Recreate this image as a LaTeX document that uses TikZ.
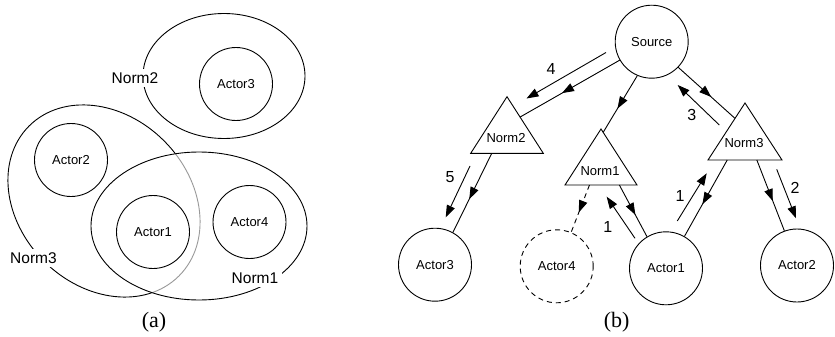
\documentclass[tikz,border=0pt]{standalone}
\usepackage{fontspec}
\setmainfont{Liberation Serif}
\setsansfont{Liberation Sans}
\usetikzlibrary{arrows.meta,decorations.markings,calc}

\begin{document}
\begin{tikzpicture}[x=1pt,y=-1pt,
  line width=0.9pt,
  >={Triangle[length=12pt,width=8.5pt]},
  every node/.style={font=\sffamily\fontsize{13}{15}\selectfont},
  actor/.style={draw, circle, minimum size=73pt, inner sep=0pt},
  setlabel/.style={fill=white, inner sep=3.5pt, font=\sffamily\fontsize{15.5}{18}\selectfont},
  numlabel/.style={inner sep=0pt, font=\sffamily\fontsize{16}{18}\selectfont},
  caption/.style={inner sep=0pt, font=\rmfamily\fontsize{22}{24}\selectfont},
  normtri/.style={draw, line join=miter},
  midarrow/.style={postaction={decorate},
    decoration={markings, mark=at position 0.58 with {\arrow{>}}}},
  offarrow/.style={->},
  absentline/.style={dash pattern=on 5pt off 4pt},
]
\fill[white] (0,0) rectangle (835,337);
\useasboundingbox (0,0) rectangle (835,337);

% ---------------- (a) nested norm sets ----------------
% Norm3 set, drawn first; its part inside Norm1 is greyed below
\draw[rotate around={-45:(104,201)}] (104,201) ellipse [x radius=106, y radius=85];
\begin{scope}
  \clip (199,226) ellipse [x radius=108, y radius=74];
  \draw[white, line width=2.6pt, rotate around={-45:(104,201)}]
    (104,201) ellipse [x radius=106, y radius=85];
  \draw[black!40, rotate around={-45:(104,201)}]
    (104,201) ellipse [x radius=106, y radius=85];
\end{scope}
% Norm1 and Norm2 sets
\draw (199,226) ellipse [x radius=108, y radius=74];
\draw (224,76) ellipse [x radius=81, y radius=62.5];

\node[actor] (sa3) at (236,84) {Actor3};
\node[actor] (sa2) at (71,160) {Actor2};
\node[actor] (sa1) at (153,232) {Actor1};
\node[actor] (sa4) at (249.5,222) {Actor4};

\node[setlabel] (sn2) at (135,78) {Norm2};
\node[setlabel] (sn3) at (33.5,258) {Norm3};
\node[setlabel] (sn1) at (255,278) {Norm1};

\node[caption] (capa) at (154,322) {(a)};

% ---------------- (b) propagation graph ----------------
\node[actor] (src) at (651.7,41.7) {Source};
\node[actor] (a3) at (435,264.7) {Actor3};
\node[actor, absentline] (a4) at (556.7,266.3) {Actor4};
\node[actor] (a1) at (666,268.3) {Actor1};
\node[actor] (a2) at (797,265.5) {Actor2};

% norm triangles: apex, left and right base corners
\coordinate (n2t) at (507,96.7);  \coordinate (n2l) at (470.7,153.3); \coordinate (n2r) at (543.3,153.3);
\coordinate (n1t) at (601,129);   \coordinate (n1l) at (565,185);     \coordinate (n1r) at (637,185);
\coordinate (n3t) at (745,103);   \coordinate (n3l) at (708,160);     \coordinate (n3r) at (782,160);
\draw[normtri] (n2t) -- (n2l) -- (n2r) -- cycle;
\draw[normtri] (n1t) -- (n1l) -- (n1r) -- cycle;
\draw[normtri] (n3t) -- (n3l) -- (n3r) -- cycle;
\node (n2) at (506,138) {Norm2};
\node (n1) at (600,170.7) {Norm1};
\node (n3) at (744,143) {Norm3};

% links from the source to the norms
\draw[midarrow] (src.210) -- ($(n2t)!0.36!(n2r)$);
\draw[midarrow] (src.247) -- ($(n1t)!0.06!(n1r)$);
\draw[midarrow] (src.316) -- ($(n3t)!0.27!(n3l)$);

% links from the norms to the actors
\draw[midarrow] ($(n2l)!0.29!(n2r)$) -- (a3.61);
\draw[midarrow, absentline] ($(n1l)!0.34!(n1r)$) -- (a4.67);
\draw[midarrow] ($(n1l)!0.755!(n1r)$) -- (a1.121);
\draw[midarrow] ($(n3l)!0.26!(n3r)$) -- (a1.60);
\draw[midarrow] ($(n3l)!0.66!(n3r)$) -- (a2.110);

% numbered message arrows beside the links
\coordinate (m4s) at (606,52.5);    \coordinate (m4e) at (526.5,98.5);
\coordinate (m3s) at (719.3,125);   \coordinate (m3e) at (677.7,85);
\coordinate (m5s) at (470,166);     \coordinate (m5e) at (445.7,217.3);
\coordinate (m1as) at (635,238.3);  \coordinate (m1ae) at (606.7,196.7);
\coordinate (m1bs) at (677.3,221);  \coordinate (m1be) at (706.7,173.3);
\coordinate (m2s) at (776.7,169.3); \coordinate (m2e) at (796,218.3);
\draw[offarrow] (m4s) -- (m4e);
\draw[offarrow] (m3s) -- (m3e);
\draw[offarrow] (m5s) -- (m5e);
\draw[offarrow] (m1as) -- (m1ae);
\draw[offarrow] (m1bs) -- (m1be);
\draw[offarrow] (m2s) -- (m2e);

\node[numlabel] (l4) at (551,68.5) {4};
\node[numlabel] (l3) at (691.7,115) {3};
\node[numlabel] (l5) at (450,176.7) {5};
\node[numlabel] (l1a) at (607.7,226.7) {1};
\node[numlabel] (l1b) at (680,196) {1};
\node[numlabel] (l2) at (795,188.3) {2};

\node[caption] (capb) at (616.7,322) {(b)};
\end{tikzpicture}
\end{document}
